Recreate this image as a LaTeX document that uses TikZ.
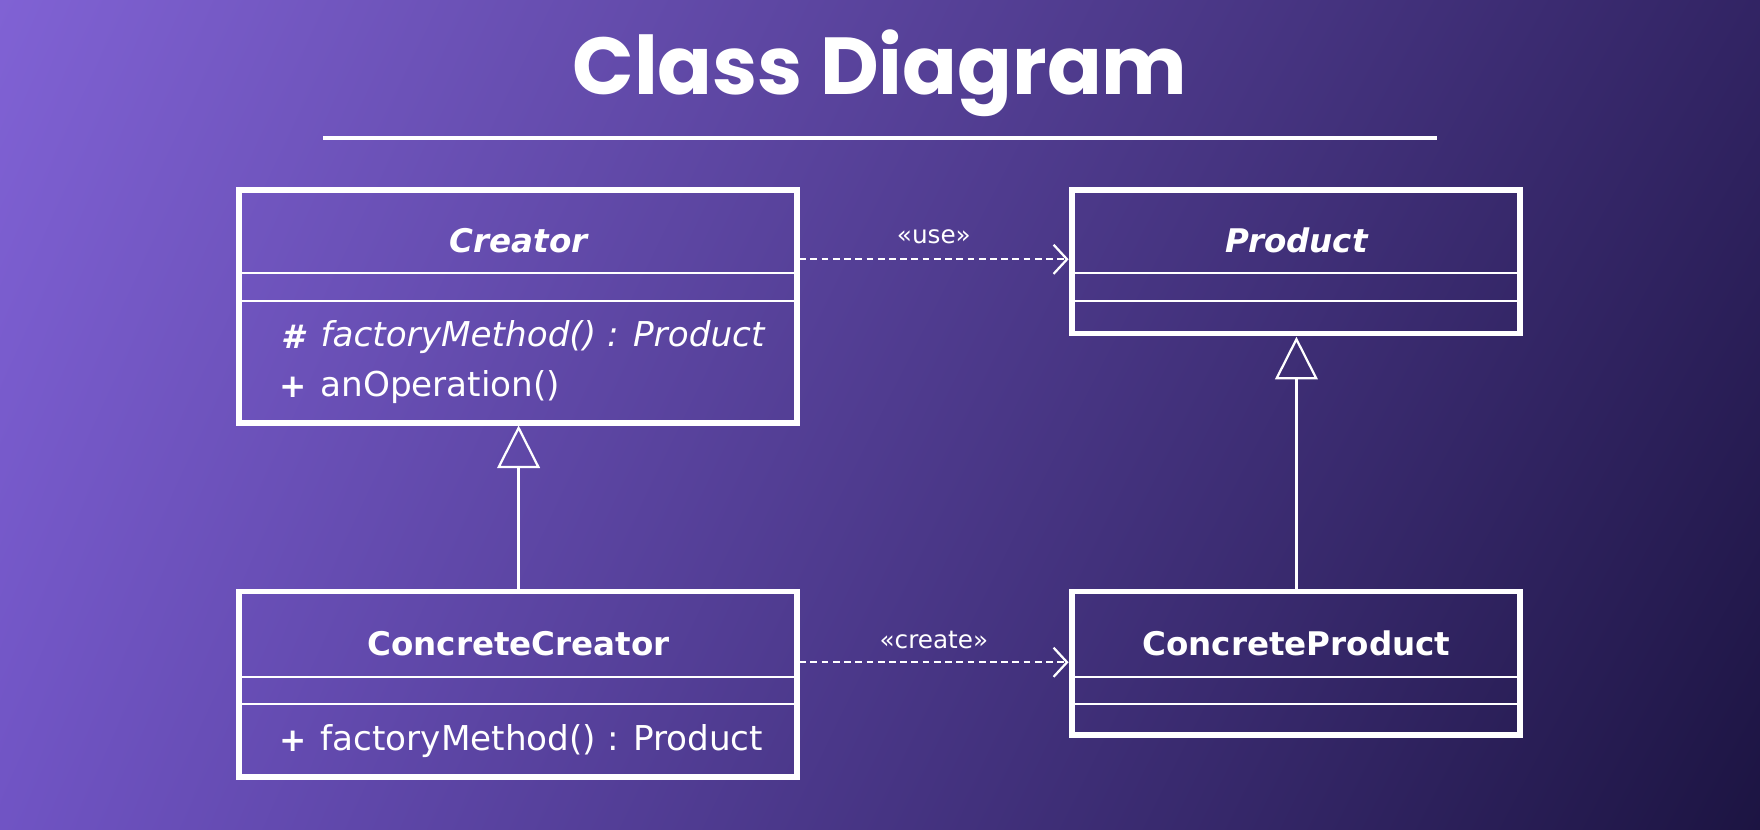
\documentclass[tikz,border=0pt]{standalone}
\usepackage{fontspec}
\setmainfont{DejaVu Sans}
\newfontfamily\titlefont{Poppins}
\usetikzlibrary{arrows.meta,shadings}
\definecolor{cUL}{RGB}{128,98,212}
\definecolor{cUR}{RGB}{50,36,100}
\definecolor{cLL}{RGB}{112,84,196}
\definecolor{cLR}{RGB}{28,20,66}
\begin{document}
\begin{tikzpicture}[x=1pt,y=-1pt,
  box/.style={draw=white,line width=5pt},
  div/.style={draw=white,line width=2.2pt},
  ttl/.style={text=white,font=\fontsize{29}{32}\selectfont\bfseries},
  mth/.style={text=white,font=\fontsize{30.5}{32}\selectfont,anchor=west},
  sym/.style={text=white,font=\fontsize{29}{32}\selectfont\bfseries},
  gen/.style={draw=white,line width=2pt,-{Triangle[open,width=38pt,length=38pt,line width=2pt]}},
  dep/.style={draw=white,line width=2pt,dash pattern=on 6pt off 4pt,-{Straight Barb[length=12pt,width=26pt,line width=2pt]}},
  lab/.style={text=white,font=\fontsize{22}{24}\selectfont}]
\useasboundingbox (0,0) rectangle (1568,739);
\shade[upper left=cUL,upper right=cUR,lower left=cLL,lower right=cLR] (0,0) rectangle (1568,739);
\node[text=white,font=\titlefont\fontsize{72}{80}\selectfont\bfseries] (title) at (784,65) {Class Diagram};
\draw[white,line width=3pt] (288,123) -- (1280,123);
% Creator
\draw[box] (213,169) rectangle (710,377);
\draw[div] (213,243) -- (710,243);
\draw[div] (213,268) -- (710,268);
\node[ttl,font=\fontsize{29}{32}\selectfont\bfseries\itshape] (creator) at (462,214) {Creator};
\node[sym,font=\fontsize{29}{32}\selectfont\bfseries\itshape] (s1) at (261,300) {\#};
\node[mth,font=\fontsize{30.5}{32}\selectfont\itshape] (m1) at (282,300) {factoryMethod() : Product};
\node[sym] (s2) at (261,345) {+};
\node[mth] (m2) at (282,345) {anOperation()};
\coordinate (cb) at (462,379);
% Product
\draw[box] (955,169) rectangle (1354,297);
\draw[div] (955,243) -- (1354,243);
\draw[div] (955,268) -- (1354,268);
\node[ttl,font=\fontsize{29}{32}\selectfont\bfseries\itshape] (product) at (1155,214) {Product};
\coordinate (pb) at (1155,300);
% ConcreteCreator
\draw[box] (213,527) rectangle (710,692);
\draw[div] (213,603) -- (710,603);
\draw[div] (213,627) -- (710,627);
\node[ttl] (cc) at (462,573) {ConcreteCreator};
\node[sym] (s3) at (261,660) {+};
\node[mth] (m3) at (282,660) {factoryMethod() : Product};
\coordinate (cct) at (462,525);
% ConcreteProduct
\draw[box] (955,527) rectangle (1354,655);
\draw[div] (955,603) -- (1354,603);
\draw[div] (955,627) -- (1354,627);
\node[ttl] (cp) at (1155,573) {ConcreteProduct};
\coordinate (cpt) at (1155,525);
% connectors
\draw[gen] (cct) -- (cb);
\draw[gen] (cpt) -- (pb);
\coordinate (u1) at (712,231); \coordinate (u2) at (952,231);
\coordinate (c1) at (712,590); \coordinate (c2) at (952,590);
\draw[dep] (u1) -- (u2);
\draw[dep] (c1) -- (c2);
\node[lab] (use) at (832,211) {«use»};
\node[lab] (create) at (832,570) {«create»};
\end{tikzpicture}
\end{document}
